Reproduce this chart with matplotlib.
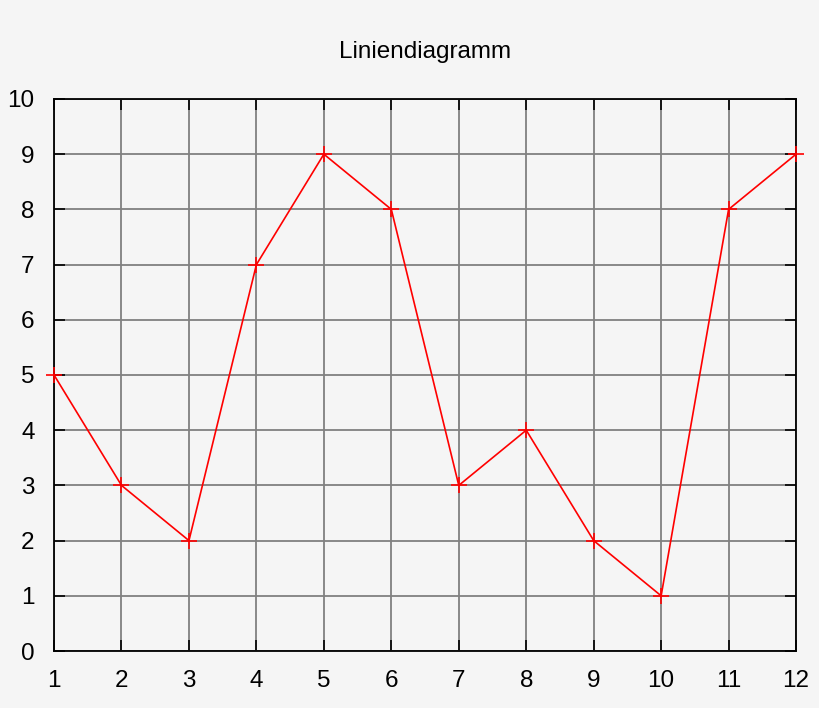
import matplotlib
matplotlib.use("Agg")
import matplotlib.pyplot as plt

x = list(range(1, 13))
y = [5, 3, 2, 7, 9, 8, 3, 4, 2, 1, 8, 9]
xticks = list(range(1, 13))
yticks = list(range(0, 11))

plt.rcParams['font.family'] = ['Liberation Sans', 'DejaVu Sans']
fig = plt.figure(figsize=(8.2, 7.08), dpi=100, facecolor='#f5f5f5')
ax = fig.add_axes([0.0659, 0.0805, 0.9049, 0.7797])
ax.set_facecolor('#f5f5f5')
ax.plot(x, y, color='red', lw=1.2, marker='+', markersize=12, markeredgewidth=1.2, clip_on=False, zorder=3)
ax.set_xlim(1, 12)
ax.set_ylim(0, 10)
ax.set_xticks(xticks)
ax.set_yticks(yticks)
ax.grid(True, color='#808080', lw=1.3)
ax.tick_params(direction='in', length=8, width=1.2, top=True, right=True, labelsize=17.5, colors='black')
ax.tick_params(axis='x', pad=14)
ax.tick_params(axis='y', pad=14)
for s in ax.spines.values():
    s.set_linewidth(1.3)
fig.text(0.518, 0.927, 'Liniendiagramm', ha='center', va='center', fontsize=17.5)
fig.savefig('out.png', dpi=100, facecolor=fig.get_facecolor())
